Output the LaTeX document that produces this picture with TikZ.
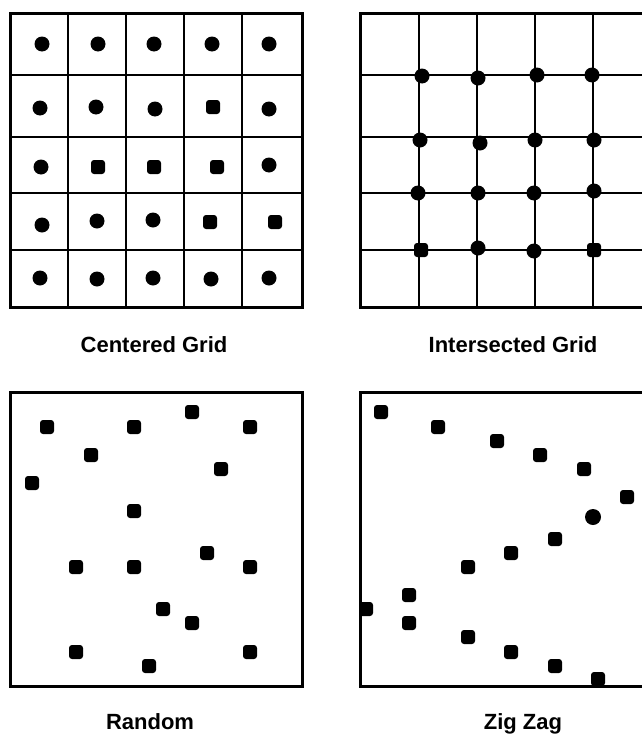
\documentclass[tikz,border=0pt]{standalone}
\usepackage{fontspec}
\setmainfont{Liberation Sans}
\usetikzlibrary{positioning}
\tikzset{
  frame/.style={draw=black,line width=3pt},
  gridln/.style={draw=black,line width=2pt},
  rdot/.style={fill=black},
  sdot/.style={fill=black,rounded corners=3pt},
  caption/.style={anchor=base,font=\bfseries\fontsize{22}{26}\selectfont,inner sep=0pt},
}

\begin{document}
\begin{tikzpicture}[x=1pt,y=-1pt]
  \clip (0,0) rectangle (642,736);
  \fill[white] (0,0) rectangle (642,736);
  % --- centered grid ---
  \foreach \g in {68,126,184,242}{\draw[gridln] (\g,13) -- (\g,307);}
  \foreach \g in {75,137,193,250}{\draw[gridln] (10,\g) -- (302,\g);}
  \draw[frame] (10,13) rectangle (302,307);
  \foreach \x/\y in {42/44,98/44,154/44,212/44,269/44,
                     40/108,96/107,155/109,269/109,
                     41/167,269/165,
                     42/225,97/221,153/220,
                     40/278,97/279,153/278,211/279,269/278}
    {\fill[rdot] (\x,\y) circle (7.5);}
  \foreach \x/\y in {213/107,98/167,154/167,217/167,210/222,275/222}
    {\fill[sdot] (\x-7,\y-7) rectangle (\x+7,\y+7);}
  \node[caption] (cgrid) at (154,352) {Centered Grid};
  % --- intersected grid ---
  \foreach \g in {419,477,535,593}{\draw[gridln] (\g,13) -- (\g,307);}
  \foreach \g in {75,137,193,250}{\draw[gridln] (360,\g) -- (652,\g);}
  \draw[frame] (360,13) rectangle (652,307);
  \foreach \x/\y in {422/76,478/78,537/75,592/75,
                     420/140,480/143,535/140,594/140,
                     418/193,478/193,534/193,594/191,
                     478/248,534/251}
    {\fill[rdot] (\x,\y) circle (7.5);}
  \foreach \x/\y in {421/250,594/250}
    {\fill[sdot] (\x-7,\y-7) rectangle (\x+7,\y+7);}
  \node[caption] (igrid) at (513,352) {Intersected Grid};
  % --- random ---
  \draw[frame] (10,392) rectangle (302,686);
  \foreach \x/\y in {47/427,134/427,192/412,250/427,91/455,221/469,32/483,
                     134/511,207/553,76/567,134/567,250/567,163/609,192/623,
                     76/652,250/652,149/666}
    {\fill[sdot] (\x-7,\y-7) rectangle (\x+7,\y+7);}
  \node[caption] (rand) at (150,729) {Random};
  % --- zig zag ---
  \draw[frame] (360,392) rectangle (652,686);
  \foreach \x/\y in {381/412,438/427,497/441,540/455,584/469,627/497,
                     555/539,511/553,468/567,409/595,366/609,409/623,
                     468/637,511/652,555/666,598/679}
    {\fill[sdot] (\x-7,\y-7) rectangle (\x+7,\y+7);}
  \fill[rdot] (593,517) circle (8);
  \node[caption] (zigzag) at (523,729) {Zig Zag};
\end{tikzpicture}
\end{document}
